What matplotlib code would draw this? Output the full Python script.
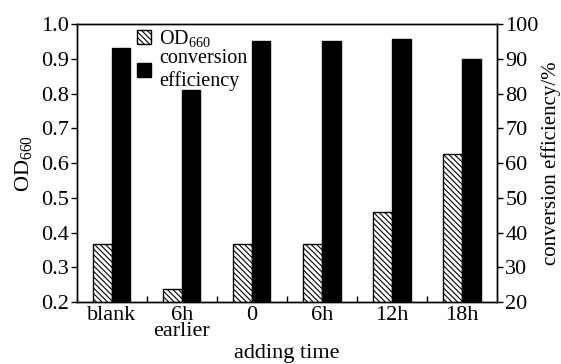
import numpy as np
import matplotlib
matplotlib.use("Agg")
import matplotlib.pyplot as plt

plt.rcParams['font.family'] = ['Liberation Serif', 'DejaVu Serif']
plt.rcParams['mathtext.fontset'] = 'custom'
plt.rcParams['mathtext.rm'] = 'Liberation Serif'
plt.rcParams['mathtext.it'] = 'Liberation Serif:italic'
plt.rcParams['hatch.linewidth'] = 0.8

categories = ["blank", "6h\nearlier", "0", "6h", "12h", "18h"]
od660 = [0.367, 0.238, 0.367, 0.367, 0.459, 0.626]
conversion = [93.0, 81.0, 95.2, 95.2, 95.6, 90.0]

x = np.arange(len(categories))
w = 0.265
fs = 16

fig = plt.figure(figsize=(5.61, 3.64), dpi=100)
ax = fig.add_axes([0.137, 0.170, 0.749, 0.764])
ax2 = ax.twinx()

b1 = ax.bar(x - w / 2, od660, w, color="white", edgecolor="black",
            hatch="\\\\\\\\\\\\", linewidth=1.0, label="OD$_{660}$")
b2 = ax2.bar(x + w / 2, conversion, w, color="black", edgecolor="black",
             linewidth=1.0, label="conversion\nefficiency")

ax.set_xlim(-0.5, 5.5)
ax.set_ylim(0.2, 1.0)
ax2.set_ylim(20, 100)
ax.set_yticks(np.arange(0.2, 1.01, 0.1))
ax2.set_yticks(np.arange(20, 101, 10))

ax.set_xticks(x)
ax.set_xticklabels(categories, fontsize=fs, linespacing=0.8)
ax.set_xticks(np.arange(0.5, 5, 1), minor=True)
ax.tick_params(axis="x", which="major", length=0, pad=3)
ax.tick_params(axis="x", which="minor", direction="in", length=4, width=1)
ax.tick_params(axis="y", direction="out", length=4, width=1, labelsize=fs, pad=2)
ax2.tick_params(axis="y", direction="out", length=4, width=1, labelsize=fs, pad=2)

ax.set_ylabel("OD$_{660}$", fontsize=fs, labelpad=5)
ax2.set_ylabel("conversion efficiency/%", fontsize=15, labelpad=2)
ax.set_xlabel("adding time", fontsize=fs, labelpad=2)

for a in (ax, ax2):
    for s in a.spines.values():
        s.set_linewidth(1.0)

ax2.legend(handles=[b1, b2], loc="upper left", bbox_to_anchor=(0.115, 1.03),
           frameon=False, fontsize=14.5, handlelength=0.7, handleheight=0.7,
           handletextpad=0.4, labelspacing=0.0, borderaxespad=0.2)

fig.savefig("out.png", dpi=100)
